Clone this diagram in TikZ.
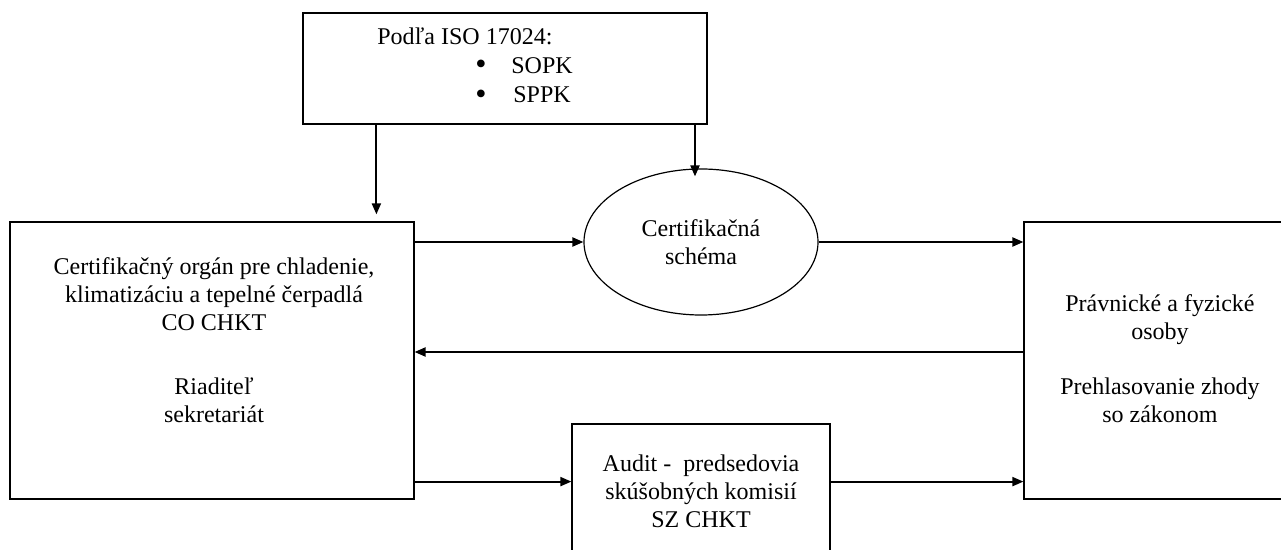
\documentclass[tikz,border=0pt]{standalone}
\usepackage{fontspec}
\setmainfont{Liberation Serif}
\usepackage{tikz}
\usetikzlibrary{shapes.geometric,arrows.meta}

\begin{document}
\begin{tikzpicture}[x=0.5pt, y=-0.5pt,
    box/.style={draw, line width=0.6pt, inner sep=0pt},
    lbl/.style={align=center, inner sep=0pt, font=\fontsize{12}{14}\selectfont},
    item/.style={inner sep=0pt, anchor=base west, font=\fontsize{12}{14}\selectfont},
    dot/.style={inner sep=0pt, font=\fontsize{16}{16}\selectfont},
    arr/.style={line width=1pt, -{Triangle[length=5.5pt,width=4.5pt]}}]
    % basics
    \useasboundingbox (0,0) rectangle (1281,550);
    \clip (0,0) rectangle (1281,550);

    % boxes
    \node[box, minimum width=202pt, minimum height=55.5pt] (iso) at (505,68.5) {};
    \node[item] (isotext) at (377,45) {Podľa ISO 17024:};
    \node[dot] (dot1) at (481,67.5) {\textbullet};
    \node[item] (sopk) at (511,74) {SOPK};
    \node[dot] (dot2) at (481,97.5) {\textbullet};
    \node[item] (sppk) at (513,103) {SPPK};

    \node[box, minimum width=202pt, minimum height=138.5pt] (co) at (212,360.5) {};
    \node[lbl, anchor=north] (cotext) at (214,257)
        {Certifikačný orgán pre chladenie,\\
         klimatizáciu a tepelné čerpadlá\\
         CO CHKT\\[18pt]
         Riaditeľ\\
         sekretariát};

    \node[draw, ellipse, line width=0.6pt, inner sep=0pt, lbl,
          minimum width=117pt, minimum height=73pt] (schema) at (701,242)
        {Certifikačná\\schéma};

    \node[box, minimum width=136pt, minimum height=138.5pt] (pr) at (1160,360.5) {};
    \node[lbl, anchor=north] (prtext) at (1160,294)
        {Právnické a fyzické\\
         osoby\\[13.5pt]
         Prehlasovanie zhody\\
         so zákonom};

    \node[box, minimum width=129pt, minimum height=88pt] (audit) at (701,512) {};
    \node[lbl, anchor=north] (audittext) at (701,454)
        {Audit - \ predsedovia\\
         skúšobných komisií\\
         SZ CHKT};

    % arrows
    \draw[arr, shorten >=3.5pt] ([xshift=37pt]iso.south west) -- ([xshift=37pt]iso.south west |- co.north);
    \draw[arr, shorten >=-4pt] ([xshift=-3pt]iso.south -| schema.north) -- ([xshift=-3pt]schema.north);
    \draw[arr] (co.east |- schema.west) -- (schema.west);
    \draw[arr] (schema.east) -- (schema.east -| pr.west);
    \draw[arr] ([yshift=4.25pt]pr.west) -- ([yshift=4.25pt]pr.west -| co.east);
    \draw[arr] ([yshift=9pt]co.south east) -- ([yshift=9pt]co.south east -| audit.west);
    \draw[arr] ([yshift=9pt]co.south east -| audit.east) -- ([yshift=9pt]co.south east -| pr.west);
\end{tikzpicture}
\end{document}
